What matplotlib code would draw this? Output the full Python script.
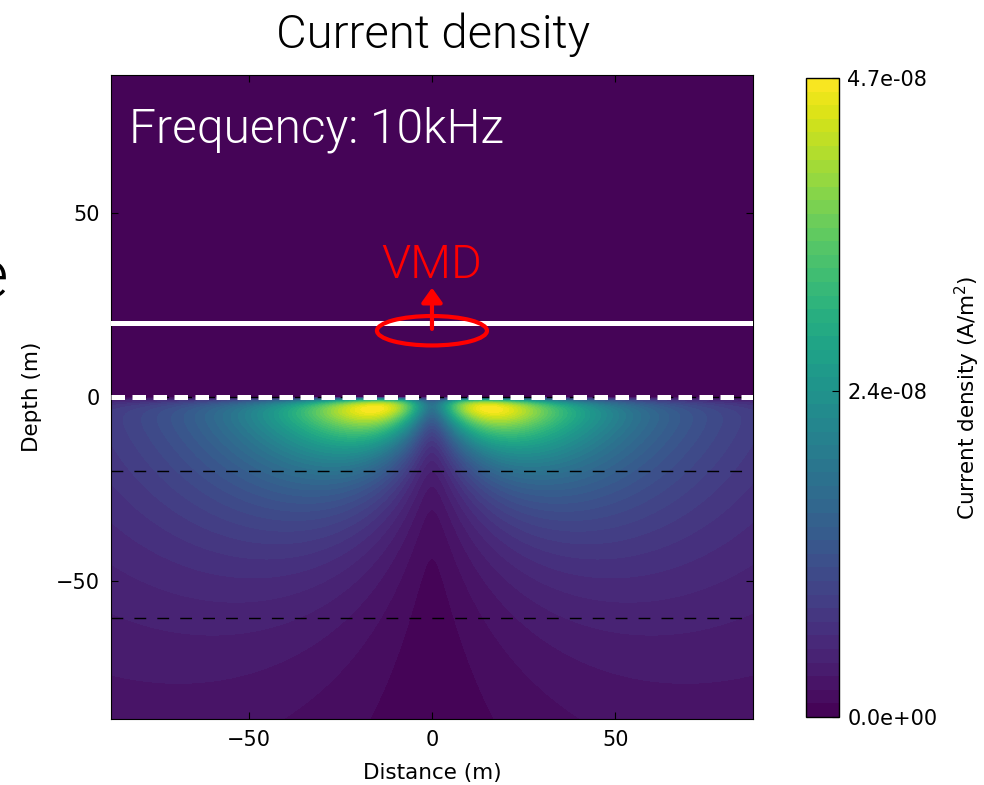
import numpy as np
import matplotlib
matplotlib.use("Agg")
import matplotlib.pyplot as plt
from matplotlib.patches import Ellipse

# text
TITLE = "Current density"
FREQ_LABEL = "Frequency: 10kHz"
SRC_LABEL = "VMD"
CBAR_LABEL = "Current density (A/m$^2$)"
X_LABEL = "Distance (m)"
Z_LABEL = "Depth (m)"

# axes
X_LIM = [-87.5, 87.5]
Z_LIM = [-87.5, 87.5]
X_TICKS = [-50, 0, 50]
Z_TICKS = [-50, 0, 50]

# geometry (m)
SRC_HEIGHT = 20.0
LOOP_CENTER = (0.0, 18.0)
LOOP_SIZE = (30.0, 8.0)
ARROW_FROM = 18.5
ARROW_TO = 29.7
LAYER_TOPS = [0.0, -20.0, -60.0]
SURFACE_RAMP = 1.5   # m, smoothing of the air/earth interface on the mesh
CELL_HALF = 3.5      # m, half width of the mesh cells next to the axis

# colour scale
PEAK_J = 4.7e-8
CBAR_TICKS = [0.0, 2.4e-8, 4.7e-8]
CBAR_TICKLABELS = ["0.0e+00", "2.4e-08", "4.7e-08"]
N_LEVELS = 48

HELV = "Roboto"
HW = 300

# induced (azimuthal) current of a loop source over the earth
x = np.linspace(X_LIM[0], X_LIM[1], 421)
z = np.linspace(Z_LIM[0], Z_LIM[1], 421)
X, Z = np.meshgrid(x, z)
r = np.sqrt(X**2 + CELL_HALF**2)
J = r / (r**2 + (SRC_HEIGHT - Z)**2) ** 1.5 * (1 - np.exp(Z / SURFACE_RAMP))
J[Z >= 0] = 0.0
J = J * PEAK_J / J.max()

fig = plt.figure(figsize=(9.84, 7.85), dpi=100)
ax = fig.add_axes([0.1128, 0.0841, 0.6524, 0.8204])
cax = fig.add_axes([0.8191, 0.0866, 0.0335, 0.814])

levels = np.linspace(0, PEAK_J, N_LEVELS)
cf = ax.contourf(X, Z, J, levels=levels, cmap="viridis")

# source height and layer boundaries
ax.axhline(SRC_HEIGHT, color="white", lw=3.6, zorder=3)
for d in LAYER_TOPS:
    ax.axhline(d, color="k", lw=1, linestyle=(0, (8.5, 8)), zorder=3)
ax.axhline(LAYER_TOPS[0], color="white", lw=3.6, linestyle=(0, (2.7, 1.5)), zorder=4)

ax.add_patch(Ellipse(LOOP_CENTER, LOOP_SIZE[0], LOOP_SIZE[1], fill=False,
                     edgecolor="red", lw=3, zorder=5))
ax.annotate("", xy=(0, ARROW_TO), xytext=(0, ARROW_FROM),
            arrowprops=dict(arrowstyle="-|>,head_length=0.35,head_width=0.25",
                            color="red", lw=3, mutation_scale=25,
                            shrinkA=0, shrinkB=0), zorder=6)
ax.text(0, 32.4, SRC_LABEL, color="red", fontsize=34, family=HELV, weight=HW,
        ha="center", va="baseline", zorder=6)
ax.text(-82.5, 69.2, FREQ_LABEL, color="white", fontsize=34.5, family=HELV,
        weight=HW, ha="left", va="baseline")

ax.set_xlim(X_LIM)
ax.set_ylim(Z_LIM)
ax.set_xticks(X_TICKS)
ax.set_yticks(Z_TICKS)
ax.tick_params(direction="in", top=True, right=True, length=5, labelsize=15,
               pad=8)
ax.set_xlabel(X_LABEL, fontsize=15.5, labelpad=9)
ax.set_ylabel(Z_LABEL, fontsize=15.5, labelpad=10)

cb = fig.colorbar(cf, cax=cax, ticks=CBAR_TICKS)
cb.ax.set_yticklabels(CBAR_TICKLABELS)
cb.ax.tick_params(direction="in", length=5, labelsize=15, pad=6)
cb.outline.set_linewidth(1)
cb.set_label(CBAR_LABEL, fontsize=15.5, labelpad=11)

fig.text(0.4405, 1 - 48 / 785, TITLE, fontsize=34, family=HELV, weight=HW,
         ha="center", va="baseline")
# letter of the neighbouring slide text, cut by the figure edge
fig.text(7 / 984, 1 - 280 / 785, "e", fontsize=48, family=HELV, weight=HW,
         ha="right", va="center")

fig.savefig("out.png", dpi=100)
